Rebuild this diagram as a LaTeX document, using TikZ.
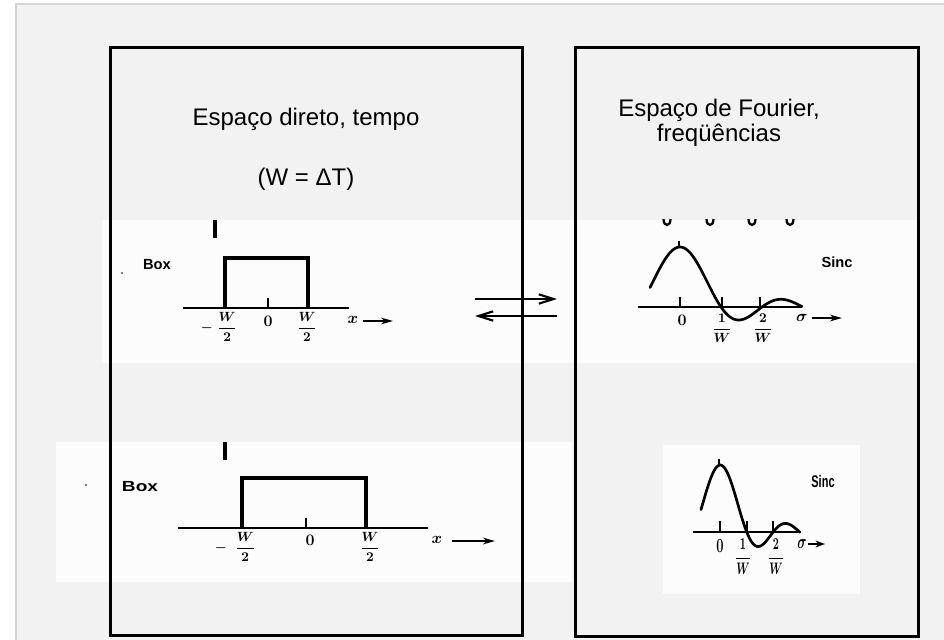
\documentclass[tikz,border=0pt]{standalone}
\usepackage[no-math]{fontspec}
\setmainfont{Liberation Sans}
\usetikzlibrary{arrows.meta}
\definecolor{pagegray}{HTML}{F2F2F2}
\definecolor{edgegray}{HTML}{D4D4D4}
\definecolor{scanwhite}{HTML}{FCFCFC}
\newcommand{\scanfr}[2]{$\displaystyle\frac{#1}{#2}$}
\begin{document}
\begin{tikzpicture}[x=0.75pt,y=-0.75pt,
  panel/.style={draw=black,line width=2.25pt,inner sep=0pt,fill=none},
  heading/.style={font=\fontsize{18}{18.75}\selectfont,inner sep=0pt},
  scanlabel/.style={font=\fontsize{10}{10}\selectfont\boldmath,inner sep=0pt},
  scanbig/.style={font=\fontsize{11.5}{11.5}\selectfont\boldmath,inner sep=0pt},
  boxlabel/.style={font=\fontsize{11}{11}\selectfont\bfseries,inner sep=0pt},
  rectline/.style={line width=2.3pt,line join=miter},
  axisline/.style={line width=1.6pt},
  tickline/.style={line width=1.3pt},
  sincline/.style={line width=2pt,line cap=round},
  scanarrow/.style={line width=1.3pt,-{Stealth[length=9pt,width=5pt,inset=2.5pt]}},
  swaparrow/.style={line width=1.6pt,-{Straight Barb[length=11pt,width=7pt]}}]
\useasboundingbox (0,0) rectangle (944,639);
\fill[white] (0,0) rectangle (944,639);
\filldraw[fill=pagegray,draw=edgegray,line width=0.8pt] (16,4) rectangle (960,660);
% scanned bands
\fill[scanwhite] (102,220) rectangle (918,363);
\fill[scanwhite] (56,442) rectangle (572,582);
\fill[scanwhite] (663,445) rectangle (860,594);

% ---------- top-left Box ----------
\draw[line width=2.4pt] (215,220) -- (215,238);
\fill (122,273) circle (0.8);
\node[boxlabel] (boxA) at (157,265) {Box};
\draw[rectline] (225,308) -- (225,258) -- (308,258) -- (308,308);
\draw[axisline] (183,308) -- (349,308);
\draw[tickline] (268,298) -- (268,308);
\node[scanlabel] (aml) at (219,327) {$-\;\displaystyle\frac{W}{2}$};
\node[scanlabel] (apl) at (307,327) {\scanfr{W}{2}};
\node[scanbig] (azero) at (268,321) {$\mathbf{0}$};
\node[scanbig] (ax) at (353,320) {$x$};
\coordinate (axa) at (363,321);
\coordinate (axb) at (393,321);
\draw[scanarrow] (axa) -- (axb);

% ---------- swap arrows ----------
\coordinate (fwdA) at (475,299);
\coordinate (fwdB) at (557,299);
\coordinate (bwdA) at (557,316);
\coordinate (bwdB) at (475,316);
\draw[swaparrow] (fwdA) -- (fwdB);
\draw[swaparrow] (bwdA) -- (bwdB);

% ---------- top-right Sinc ----------
\foreach \vx in {667,710,752,790}
  \draw[line width=1.7pt] (\vx-3.5,219) .. controls (\vx-3.5,227) and (\vx+3.5,227) .. (\vx+3.5,219);
\draw[axisline] (638,307) -- (802,307);
\foreach \tx in {680,722,760} \draw[tickline] (\tx,297) -- (\tx,307);
\draw[tickline] (679,241) -- (679,248);
\draw[sincline] plot[domain=650:802,samples=120,smooth]
  (\x,{307-60*sin(180*((\x-680)/41))/(pi*((\x-680)/41))});
\node[scanbig] (bzero) at (682,320) {$\mathbf{0}$};
\node[scanlabel] (bone) at (722,328) {\scanfr{1}{W}};
\node[scanlabel] (btwo) at (763,328) {\scanfr{2}{W}};
\node[scanbig] (bsig) at (802,318) {$\sigma$};
\coordinate (bsa) at (812,318);
\coordinate (bsb) at (842,318);
\draw[scanarrow] (bsa) -- (bsb);
\node[boxlabel] (sincA) at (837,262) {Sinc};

% ---------- bottom-left Box ----------
\draw[line width=2.6pt] (225,442) -- (225,460);
\fill (86,485) circle (0.8);
\node[boxlabel] (boxB) at (140,487) {\scalebox{1.3}[1]{Box}};
\draw[rectline,line width=2.6pt] (242,528) -- (242,478) -- (366,478) -- (366,528);
\draw[axisline] (178,528) -- (428,528);
\draw[tickline] (306,518) -- (306,528);
\node[scanlabel] (cml) at (235,547) {$-\;\;\displaystyle\frac{W}{2}$};
\node[scanlabel] (cpl) at (370,547) {\scanfr{W}{2}};
\node[scanbig] (czero) at (310,540) {$\mathbf{0}$};
\node[scanbig] (cx) at (437,540) {$x$};
\coordinate (cxa) at (452,541);
\coordinate (cxb) at (495,541);
\draw[scanarrow] (cxa) -- (cxb);

% ---------- bottom-right Sinc ----------
\draw[axisline] (693,532) -- (800,532);
\foreach \tx in {720,747,773} \draw[tickline] (\tx,521) -- (\tx,532);
\draw[tickline] (719,459) -- (719,466);
\draw[sincline] plot[domain=701:800,samples=100,smooth]
  (\x,{532-67*sin(180*((\x-720.2)/26.5))/(pi*((\x-720.2)/26.5))});
\node[scanbig] (dzero) at (720,546) {\scalebox{0.8}[1.25]{$\mathbf{0}$}};
\node[scanlabel] (done) at (743,557) {\scalebox{0.8}[1.25]{\scanfr{1}{W}}};
\node[scanlabel] (dtwo) at (776,557) {\scalebox{0.8}[1.25]{\scanfr{2}{W}}};
\node[scanbig] (dsig) at (802,544) {\scalebox{0.8}[1.25]{$\sigma$}};
\coordinate (dsa) at (808,544);
\coordinate (dsb) at (825,544);
\draw[scanarrow,-{Stealth[length=7pt,width=5pt,inset=2pt]}] (dsa) -- (dsb);
\node[boxlabel] (sincB) at (823,481) {\scalebox{0.75}[1.15]{Sinc}};

% ---------- panels ----------
\node[panel,minimum width=309pt,minimum height=441pt] (direct) at (316,341) {};
\node[panel,minimum width=257.25pt,minimum height=441.75pt] (fourier) at (746.5,341.5) {};

% ---------- headings ----------
\node[heading,anchor=base] (h1) at (306,125) {Espaço direto, tempo};
\node[heading,anchor=base] (h2) at (306,185) {(W = ΔT)};
\node[heading,align=center] (h3) at (719,123) {Espaço de Fourier,\\freqüências};
\end{tikzpicture}
\end{document}
